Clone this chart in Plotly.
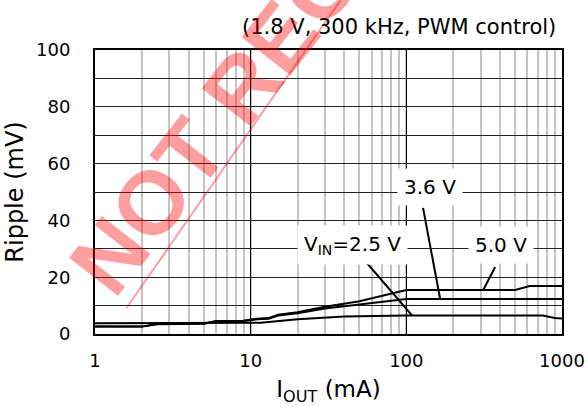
import numpy as np
import plotly.graph_objects as go

# ---- data ----
iout_25 = [1, 2.5, 5, 6, 11.6, 20, 40, 100, 750, 900, 1000]
ripple_25 = [3.8, 3.8, 3.9, 4.0, 4.0, 5.2, 6.2, 6.5, 6.5, 5.6, 5.5]

iout_36 = [1, 2, 2.5, 5, 6, 9, 11, 13, 15, 20, 30, 50, 100, 1000]
ripple_36 = [2.6, 2.6, 3.4, 3.6, 4.5, 4.6, 5.2, 5.4, 6.5, 7.3, 9.0, 10.5, 12.3, 12.3]

iout_50 = [1, 2, 2.5, 5, 6, 9, 11, 13, 15, 20, 30, 50, 100, 500, 620, 1000]
ripple_50 = [2.6, 2.6, 3.5, 3.7, 4.6, 4.7, 5.4, 5.6, 6.8, 7.7, 9.6, 11.5, 15.5, 15.5, 16.9, 16.9]

x_ticks = [1, 10, 100, 1000]
x_tick_labels = ["1", "10", "100", "1000"]
y_ticks = [0, 20, 40, 60, 80, 100]

# labels: (text, text position x, y, pointer start x, y, pointer end x, y)
labels = [
    ("3.6 V", 142, 51.7, 128, 44.4, 165, 12.3),
    ("V<sub>IN</sub>=2.5 V", 45.3, 31.3, 53, 26.4, 109, 6.5),
    ("5.0 V", 406, 31.3, 372, 23.6, 312, 15.5),
]

FONT = "DejaVu Sans, sans-serif"
WM_FONT = "Liberation Sans, Arial, sans-serif"

fig = go.Figure()
for xs, ys in [(iout_25, ripple_25), (iout_36, ripple_36), (iout_50, ripple_50)]:
    fig.add_trace(go.Scatter(x=xs, y=ys, mode="lines",
                             line=dict(color="black", width=2),
                             hoverinfo="skip", showlegend=False))

for text, tx, ty, px0, py0, px1, py1 in labels:
    fig.add_trace(go.Scatter(x=[px0, px1], y=[py0, py1], mode="lines",
                             line=dict(color="black", width=2),
                             hoverinfo="skip", showlegend=False))
    fig.add_annotation(x=np.log10(tx), y=ty, xref="x", yref="y", text=text,
                       showarrow=False, bgcolor="white", borderpad=6,
                       xanchor="center", yanchor="middle",
                       font=dict(family=FONT, size=20, color="black"))

fig.update_layout(
    width=588, height=406,
    margin=dict(l=95, r=26, t=50, b=72, autoexpand=False),
    paper_bgcolor="white", plot_bgcolor="white",
    font=dict(family=FONT, size=18, color="black"),
    showlegend=False,
)
fig.update_xaxes(
    type="log", range=[0, 3], automargin=False,
    tickvals=x_ticks, ticktext=x_tick_labels,
    showgrid=True, gridcolor="black", gridwidth=1,
    minor=dict(dtick="D1", showgrid=True, gridcolor="#c4c4c4", gridwidth=2, ticks=""),
    ticks="outside", ticklen=9, tickcolor="rgba(0,0,0,0)",
    showline=True, linecolor="black", linewidth=2, mirror=True,
    title=dict(text="I<sub>OUT</sub> (mA)", font=dict(size=23), standoff=16),
    tickfont=dict(size=18),
    zeroline=False,
)
fig.update_yaxes(
    range=[0, 100], tickvals=y_ticks, automargin=False,
    showgrid=True, gridcolor="#222222", gridwidth=1,
    minor=dict(dtick=10, showgrid=True, gridcolor="#222222", gridwidth=1, ticks=""),
    ticks="outside", ticklen=19, tickcolor="rgba(0,0,0,0)",
    showline=True, linecolor="black", linewidth=2, mirror=True,
    title=dict(text="Ripple (mV)", font=dict(size=24), standoff=6),
    tickfont=dict(size=18),
    zeroline=False,
)

# condition note
fig.add_annotation(x=1, y=1, xref="paper", yref="paper", xanchor="right", yanchor="bottom",
                   xshift=-4, yshift=9, text="(1.8 V, 300 kHz, PWM control)", showarrow=False,
                   font=dict(family=FONT, size=21, color="black"))

# watermark
W, H = 467.5, 284.5
def px(xp):
    return (xp - 94.5) / W
def py(yp):
    return (334 - yp) / H
fig.add_annotation(x=px(379), y=py(-90), xref="paper", yref="paper",
                   xanchor="center", yanchor="middle",
                   text="<b>NOT RECOMMENDED</b>", textangle=-52, showarrow=False,
                   font=dict(family=WM_FONT, size=90, color="rgba(255,0,0,0.38)"))
fig.add_shape(type="line", xref="paper", yref="paper",
              x0=px(126), y0=py(308), x1=px(340), y1=py(0),
              line=dict(color="rgba(255,0,0,0.38)", width=2), layer="above")

fig.write_html("out.html", post_script="document.body.style.margin='0';",
               config={"displayModeBar": False})
